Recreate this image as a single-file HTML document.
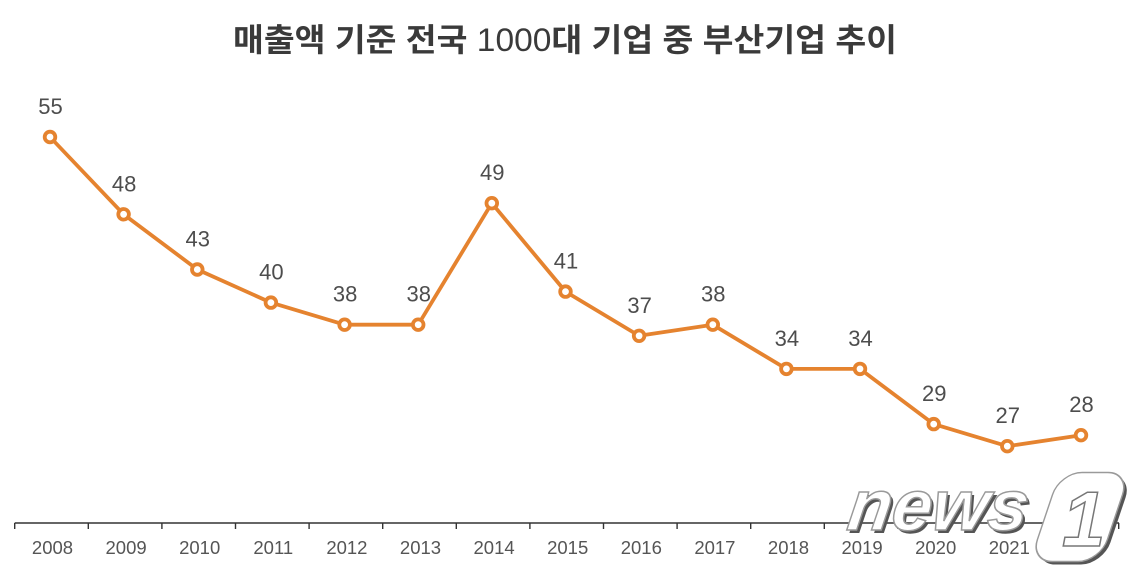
<!DOCTYPE html>
<html><head><meta charset="utf-8"><style>
html,body{margin:0;padding:0;background:#fff;}
svg{display:block;}
</style></head><body>
<svg width="1134" height="567" viewBox="0 0 1134 567" xmlns="http://www.w3.org/2000/svg">
<rect width="1134" height="567" fill="#fff"/>
<text x="233" y="51" font-family="'Liberation Sans','Noto Sans CJK KR',sans-serif" font-weight="bold" font-size="32" fill="#3a3a3a" textLength="664" lengthAdjust="spacingAndGlyphs">매출액 기준 전국 <tspan font-weight="normal">1000</tspan>대 기업 중 부산기업 추이</text>

<!-- axis -->
<g stroke="#333" stroke-width="1.4" fill="none">
<line x1="14.7" y1="523" x2="1119" y2="523"/>
<path d="M14.7 523V529M88.3 523V529M161.9 523V529M235.5 523V529M309.1 523V529M382.7 523V529M456.3 523V529M529.9 523V529M603.5 523V529M677.1 523V529M750.7 523V529M824.3 523V529M897.9 523V529M971.5 523V529M1045.1 523V529M1118.7 523V529"/>
</g>
<g font-family="'Liberation Sans',sans-serif" font-size="18.5" fill="#555" text-anchor="middle">
<text x="52.5" y="554">2008</text>
<text x="126.1" y="554">2009</text>
<text x="199.7" y="554">2010</text>
<text x="273.3" y="554">2011</text>
<text x="346.9" y="554">2012</text>
<text x="420.5" y="554">2013</text>
<text x="494.1" y="554">2014</text>
<text x="567.7" y="554">2015</text>
<text x="641.3" y="554">2016</text>
<text x="714.9" y="554">2017</text>
<text x="788.5" y="554">2018</text>
<text x="862.1" y="554">2019</text>
<text x="935.7" y="554">2020</text>
<text x="1009.3" y="554">2021</text>
<text x="1082.9" y="554">2022</text>
</g>

<!-- series -->
<polyline fill="none" stroke="#e5832f" stroke-width="3.8" stroke-linejoin="round" points="50,137 123.6,214.3 197.3,269.5 270.9,302.6 344.6,324.7 418.2,324.7 491.8,203.2 565.5,291.6 639.1,335.8 712.8,324.7 786.4,368.9 860,368.9 933.7,424.1 1007.3,446.2 1081,435.2"/>
<g fill="#fff" stroke="#e5832f" stroke-width="3.8">
<circle cx="50" cy="137" r="5.3"/>
<circle cx="123.6" cy="214.3" r="5.3"/>
<circle cx="197.3" cy="269.5" r="5.3"/>
<circle cx="270.9" cy="302.6" r="5.3"/>
<circle cx="344.6" cy="324.7" r="5.3"/>
<circle cx="418.2" cy="324.7" r="5.3"/>
<circle cx="491.8" cy="203.2" r="5.3"/>
<circle cx="565.5" cy="291.6" r="5.3"/>
<circle cx="639.1" cy="335.8" r="5.3"/>
<circle cx="712.8" cy="324.7" r="5.3"/>
<circle cx="786.4" cy="368.9" r="5.3"/>
<circle cx="860" cy="368.9" r="5.3"/>
<circle cx="933.7" cy="424.1" r="5.3"/>
<circle cx="1007.3" cy="446.2" r="5.3"/>
<circle cx="1081" cy="435.2" r="5.3"/>
</g>
<g font-family="'Liberation Sans',sans-serif" font-size="22" fill="#4d4d4d" text-anchor="middle">
<text x="50.5" y="114">55</text>
<text x="124.1" y="191.3">48</text>
<text x="197.8" y="246.5">43</text>
<text x="271.4" y="279.6">40</text>
<text x="345.1" y="301.7">38</text>
<text x="418.7" y="301.7">38</text>
<text x="492.3" y="180.2">49</text>
<text x="566" y="268.6">41</text>
<text x="639.6" y="312.8">37</text>
<text x="713.3" y="301.7">38</text>
<text x="786.9" y="345.9">34</text>
<text x="860.5" y="345.9">34</text>
<text x="934.2" y="401.1">29</text>
<text x="1007.8" y="423.2">27</text>
<text x="1081.5" y="412.2">28</text>
</g>

<!-- watermark -->
<g font-family="'Liberation Sans',sans-serif" font-weight="bold" font-style="italic" font-size="72">
<text x="851" y="533" fill="#555" transform="skewX(-8) translate(72,0)">news</text>
<text x="848" y="530" fill="#fff" stroke="#9a9a9a" stroke-width="1.5" transform="skewX(-8) translate(72,0)">news</text>
</g>
<g transform="translate(1083,520) skewX(-18.6)">
<rect x="-35" y="-44.5" width="70" height="89" rx="22" fill="#555"/>
</g>
<g transform="translate(1080,517) skewX(-18.6)">
<rect x="-35" y="-44.5" width="70" height="89" rx="22" fill="#fff" stroke="#9a9a9a" stroke-width="1.5"/>
</g>
<text x="1062" y="546" font-family="'Liberation Sans',sans-serif" font-weight="bold" font-style="italic" font-size="78" fill="#fff" stroke="#777" stroke-width="1.5">1</text>
</svg>
</body></html>
